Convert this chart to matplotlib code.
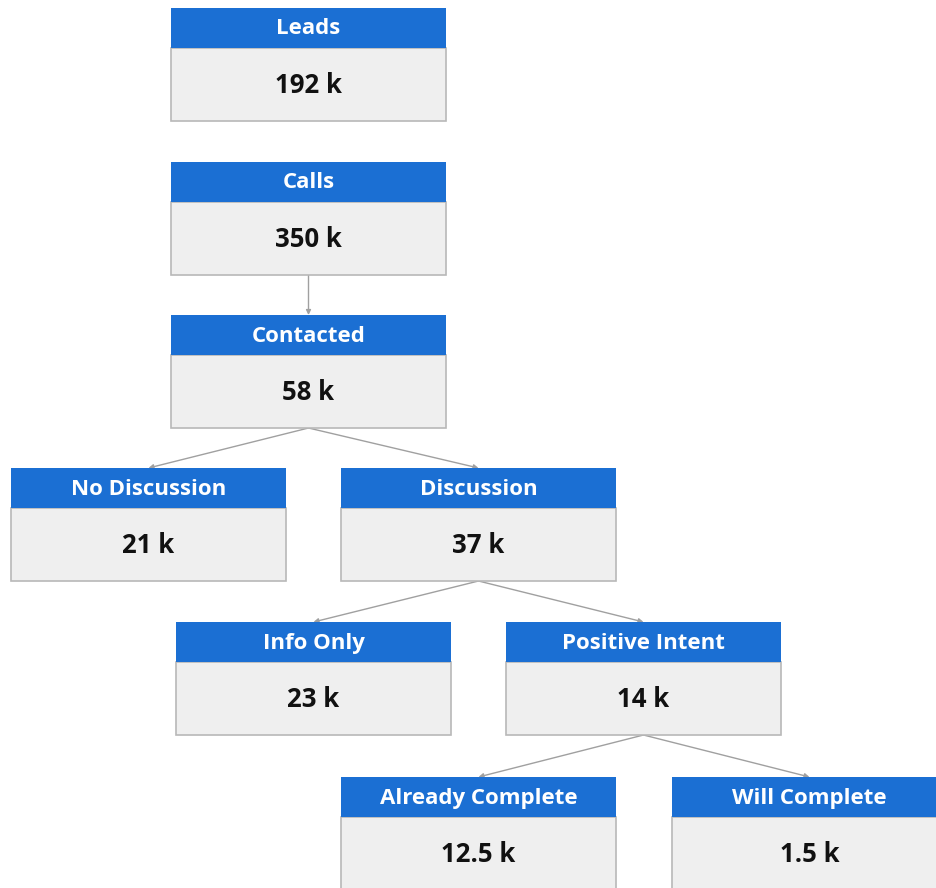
import matplotlib.pyplot as plt
from matplotlib.patches import Rectangle

# funnel nodes
labels = ["Leads", "Calls", "Contacted", "No Discussion", "Discussion",
          "Info Only", "Positive Intent", "Already Complete", "Will Complete"]
values = ["192 k", "350 k", "58 k", "21 k", "37 k", "23 k", "14 k", "12.5 k", "1.5 k"]
edges = [("Calls", "Contacted"), ("Contacted", "No Discussion"), ("Contacted", "Discussion"),
         ("Discussion", "Info Only"), ("Discussion", "Positive Intent"),
         ("Positive Intent", "Already Complete"), ("Positive Intent", "Will Complete")]

# layout (pixel space: left edge, top edge)
box_x = [171, 171, 171, 11, 341, 176, 506, 341, 672]
box_y = [8, 162, 315, 468, 468, 622, 622, 777, 777]
W, HH, BH = 275, 40, 73

HEAD = "#1b6fd3"
BODY = "#efefef"
EDGE = "#b8b8b8"
FONT = ["Open Sans", "DejaVu Sans"]

fig = plt.figure(figsize=(9.36, 8.88), dpi=100)
ax = fig.add_axes([0, 0, 1, 1])
ax.set_xlim(0, 936)
ax.set_ylim(888, 0)
ax.axis("off")

pos = {}
for lab, val, x, y in zip(labels, values, box_x, box_y):
    ax.add_patch(Rectangle((x, y + HH), W, BH, facecolor=BODY, edgecolor=EDGE, lw=1.2, zorder=2))
    ax.add_patch(Rectangle((x, y), W, HH, facecolor=HEAD, edgecolor="none", zorder=3))
    ax.text(x + W / 2, y + HH / 2 + 1, lab, color="white", fontsize=16, fontweight="bold",
            family=FONT, ha="center", va="center", zorder=4)
    ax.text(x + W / 2, y + HH + BH / 2 + 1, val, color="#111111", fontsize=18.5, fontweight="bold",
            family=FONT, ha="center", va="center", zorder=4)
    pos[lab] = (x + W / 2, y, y + HH + BH)

for a, b in edges:
    xa, _, ya = pos[a]
    xb, yb, _ = pos[b]
    ax.annotate("", xy=(xb, yb), xytext=(xa, ya),
                arrowprops=dict(arrowstyle="-|>", color="#a0a0a0", lw=1.0,
                                mutation_scale=7, shrinkA=0, shrinkB=0), zorder=1)

fig.savefig("out.png", dpi=100)
